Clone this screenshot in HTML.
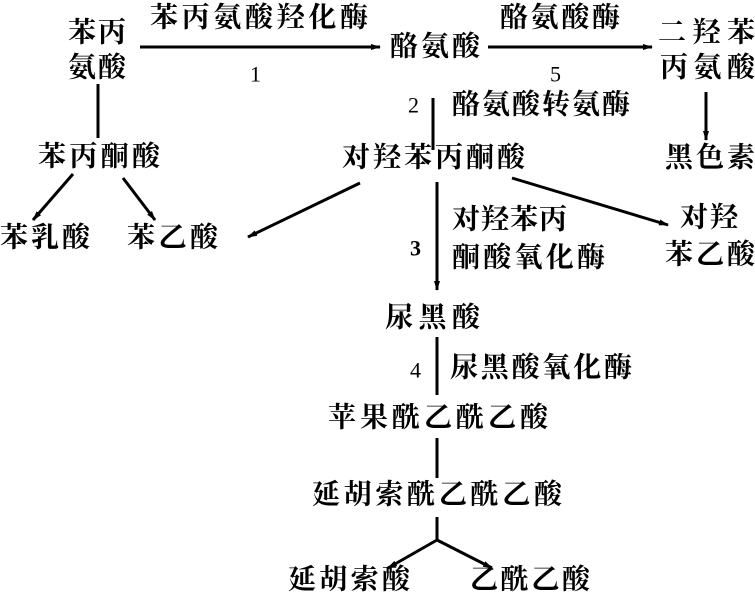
<!DOCTYPE html>
<html><head><meta charset="utf-8"><style>
html,body{margin:0;padding:0;background:#fff;}
svg{display:block;}
text{font-family:"Liberation Serif","Noto Serif CJK SC","Noto Sans CJK SC",serif;font-size:28px;fill:#000;dominant-baseline:central;font-weight:bold;}
.n{font-size:22px;font-weight:normal;}
</style></head><body>
<svg width="755" height="598" viewBox="0 0 755 598" xmlns="http://www.w3.org/2000/svg">
<defs><marker id="a" markerWidth="10" markerHeight="8" refX="9" refY="4" orient="auto" markerUnits="userSpaceOnUse"><path d="M0,1 L10,4 L0,7 Z" fill="#000"/></marker></defs>
<g stroke="#000" stroke-width="3" fill="none">
<line x1="140" y1="47" x2="380" y2="47" marker-end="url(#a)"/>
<line x1="488" y1="47" x2="652" y2="47" marker-end="url(#a)"/>
<line x1="98" y1="84" x2="98" y2="138"/>
<line x1="433" y1="98" x2="433" y2="150"/>
<line x1="706" y1="92" x2="706" y2="140" marker-end="url(#a)"/>
<line x1="73" y1="174" x2="33" y2="220" marker-end="url(#a)"/>
<line x1="123" y1="178" x2="155" y2="220" marker-end="url(#a)"/>
<line x1="360" y1="183" x2="248" y2="237" marker-end="url(#a)"/>
<line x1="512" y1="178" x2="668" y2="225" marker-end="url(#a)"/>
<line x1="437" y1="182" x2="437" y2="290" marker-end="url(#a)"/>
<line x1="437" y1="337" x2="437" y2="395"/>
<line x1="437" y1="438" x2="437" y2="478"/>
<line x1="437" y1="517" x2="437" y2="540"/>
<line x1="437" y1="540" x2="388" y2="568" marker-end="url(#a)"/>
<line x1="437" y1="540" x2="492" y2="568" marker-end="url(#a)"/>
</g>
<text x="68" y="33" textLength="58">苯丙</text>
<text x="68" y="68" textLength="58">氨酸</text>
<text x="150" y="18" textLength="218">苯丙氨酸羟化酶</text>
<text x="250" y="74" class="n">1</text>
<text x="390" y="47" textLength="90">酪氨酸</text>
<text x="500" y="18" textLength="120">酪氨酸酶</text>
<text x="550" y="74" class="n">5</text>
<text x="658" y="33" textLength="97">二羟苯</text>
<text x="660" y="68" textLength="95">丙氨酸</text>
<text x="408" y="105" class="n">2</text>
<text x="452" y="105" textLength="178">酪氨酸转氨酶</text>
<text x="38" y="157" textLength="122">苯丙酮酸</text>
<text x="342" y="158" textLength="183">对羟苯丙酮酸</text>
<text x="665" y="158" textLength="90">黑色素</text>
<text x="0" y="238" textLength="90">苯乳酸</text>
<text x="127" y="238" textLength="91">苯乙酸</text>
<text x="680" y="218" textLength="58">对羟</text>
<text x="665" y="255" textLength="90">苯乙酸</text>
<text x="410" y="248" class="n" style="font-weight:bold">3</text>
<text x="452" y="220" textLength="115">对羟苯丙</text>
<text x="452" y="258" textLength="153">酮酸氧化酶</text>
<text x="385" y="318" textLength="95">尿黑酸</text>
<text x="410" y="370" class="n">4</text>
<text x="450" y="368" textLength="182">尿黑酸氧化酶</text>
<text x="328" y="418" textLength="220">苹果酰乙酰乙酸</text>
<text x="312" y="495" textLength="250">延胡索酰乙酰乙酸</text>
<text x="288" y="580" textLength="122">延胡索酸</text>
<text x="470" y="580" textLength="120">乙酰乙酸</text>
</svg>
</body></html>
